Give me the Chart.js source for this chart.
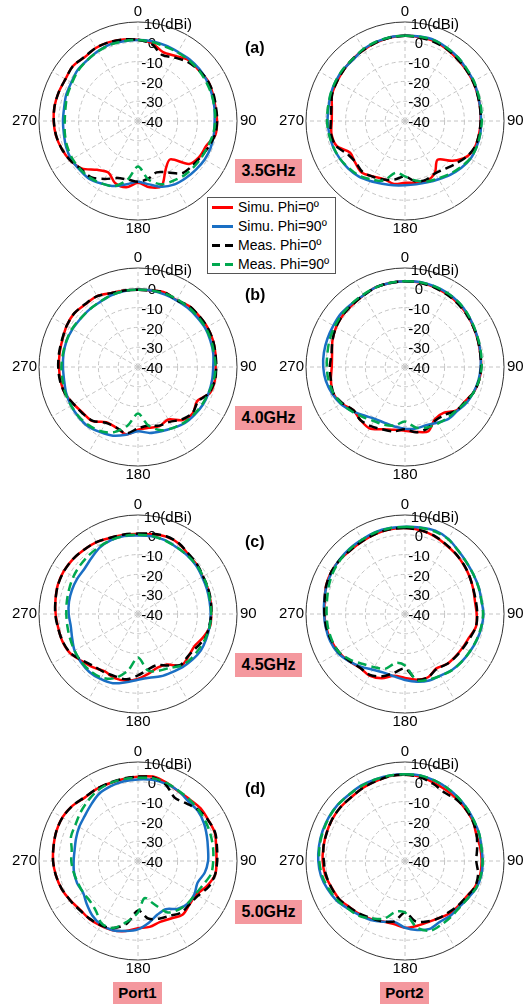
<!DOCTYPE html>
<html>
<head>
<meta charset="utf-8">
<script src="https://cdn.jsdelivr.net/npm/chart.js@4.4.0/dist/chart.umd.min.js"></script>
<style>
  html, body { margin: 0; padding: 0; background: #fff; }
  body { width: 524px; height: 1006px; position: relative; overflow: hidden;
         font-family: "Liberation Sans", Arial, sans-serif; color: #000; }
  .plot { position: absolute; width: 270px; height: 250px; }
  .tag { position: absolute; font-weight: bold; font-size: 16px; line-height: 18px; }
  .pink { position: absolute; background: #f4989e; font-weight: bold; text-align: center; z-index: 2; }
  .freq { width: 67px; height: 24px; line-height: 24px; font-size: 16px; }
  .port { width: 49px; height: 22px; line-height: 22px; font-size: 15px; }
  #legend { position: absolute; left: 207px; top: 197px; width: 127px; height: 75px;
            border: 1px solid #555; background: #fff; z-index: 3; padding-top: 0; }
  #legend .row { height: 19px; line-height: 19px; font-size: 14px; white-space: nowrap; padding-left: 4px; }
  #legend .swatch { display: inline-block; width: 21px; height: 3px; vertical-align: middle;
                    margin-right: 5px; position: relative; top: -1px; }
</style>
</head>
<body>

<canvas id="p1a" class="plot" width="270" height="250" style="left:3px;top:-4px"></canvas>
<canvas id="p2a" class="plot" width="270" height="250" style="left:270px;top:-4px"></canvas>
<canvas id="p1b" class="plot" width="270" height="250" style="left:3px;top:242px"></canvas>
<canvas id="p2b" class="plot" width="270" height="250" style="left:270px;top:242px"></canvas>
<canvas id="p1c" class="plot" width="270" height="250" style="left:3px;top:489px"></canvas>
<canvas id="p2c" class="plot" width="270" height="250" style="left:270px;top:489px"></canvas>
<canvas id="p1d" class="plot" width="270" height="250" style="left:3px;top:736px"></canvas>
<canvas id="p2d" class="plot" width="270" height="250" style="left:270px;top:736px"></canvas>

<div class="tag" style="left:245px;top:39px">(a)</div>
<div class="tag" style="left:245px;top:286px">(b)</div>
<div class="tag" style="left:245px;top:533px">(c)</div>
<div class="tag" style="left:245px;top:780px">(d)</div>

<div class="pink freq" style="left:235px;top:159px">3.5GHz</div>
<div class="pink freq" style="left:235px;top:406px">4.0GHz</div>
<div class="pink freq" style="left:235px;top:653px">4.5GHz</div>
<div class="pink freq" style="left:235px;top:900px">5.0GHz</div>

<div class="pink port" style="left:113px;top:982px">Port1</div>
<div class="pink port" style="left:380px;top:982px">Port2</div>

<div id="legend"></div>

<script>
// angles (deg, clockwise from top) at which every pattern is sampled
const angles = [0, 10, 20, 30, 40, 50, 60, 70, 80, 90, 100, 110, 120, 130, 140, 150, 160, 170,
                180, 190, 200, 210, 220, 230, 240, 250, 260, 270, 280, 290, 300, 310, 320, 330, 340, 350]
const angleLabels = ['0', '90', '180', '270']
const tickValues = [10, 0, -10, -20, -30, -40]
const tickLabels = ['10(dBi)', '0', '-10', '-20', '-30', '-40']
const seriesNames = ['Simu. Phi=0º', 'Simu. Phi=90º', 'Meas. Phi=0º', 'Meas. Phi=90º']

// (a) 3.5 GHz
const p1a_simu0  = [1, 0, -3, -2, 0, 0, 0.7, 0.2, -0.3, -0.1, -0.3, -3.3, -4.1, -6.3, -14.7, -12, -5.1, -6, -8.8, -6, -6.5, -10, -7.8, -2.8, -0.4, 1, 2.1, 2.6, 2.8, 2.6, 2.3, 3, 2, 2.6, 2.4, 1.8]
const p1a_simu90 = [0.9, 0.9, 0.6, 0.3, 0.6, 0.6, 0.3, -0.3, -0.8, -1.3, -1.1, -0.9, -1.1, -1.8, -2.4, -3, -4.6, -7.5, -9.3, -7.6, -5, -3.5, -1.8, -1.6, -1.1, -1.4, -2, -2.1, -2.1, -1.4, -1.1, -0.1, 0, 0.7, 1.2, 0.9]
const p1a_meas0  = [1, -0.5, -4.5, -3, -1, 0, 0.7, 0.5, 0, 0, -0.5, -2, -3.5, -4.5, -5.5, -10, -12.4, -10.4, -9.3, -10, -9.3, -6.2, -3, -2.4, -0.4, 1, 2, 2.5, 2.8, 2.6, 2.3, 3, 2.2, 2.6, 2.4, 1.8]
const p1a_meas90 = [0.9, 0.5, 0, 0, 0, 0, -0.3, -0.5, -0.8, -1, -1.5, -2.5, -3, -3.5, -4, -5, -6, -10, -17, -10, -5, -3.5, -2.5, -2, -1.8, -2, -2.5, -3, -2.8, -2, -1.5, -0.5, 0, 0.5, 1, 1]
const p2a_simu0  = [3, 3, 3, 2, 1, 0.3, -0.3, -1, -1.5, -1.8, -2, -2.3, -4, -8.7, -14.4, -9.8, -7.8, -8.3, -8.8, -7.7, -8.8, -7.7, -6, -7.2, -8, -3.3, -2.3, -3, -2.5, -0.8, -0.3, 0.3, 1, 1.5, 2.2, 2.8]
const p2a_simu90 = [3, 3.3, 3.5, 2.6, 1.8, 0.6, 0.1, -0.9, -1.4, -1.6, -1.4, -1.6, -1.8, -3, -4.5, -6, -7, -7.5, -7.5, -7, -6.3, -5, -3.5, -2.6, -2, -1.4, -1.2, -0.9, -0.8, -0.1, 0.4, 0.6, 0.6, 1.9, 2.5, 3]
const p2a_meas0  = [3, 2.8, 2.5, 2, 1, 0.3, -0.3, -1, -1.5, -1.8, -2, -2.3, -4, -6.5, -8.5, -9.5, -8.5, -9, -12, -10, -8.5, -7.5, -6.5, -7.5, -6.5, -3, -2, -2.5, -2.2, -0.8, -0.3, 0.3, 1, 1.5, 2.2, 2.8]
const p2a_meas90 = [3, 3.2, 3.3, 2.5, 1.8, 0.8, 0.2, -0.6, -1, -1.2, -1.5, -1.5, -2, -3.5, -5, -6.5, -7.5, -9.5, -12, -13.5, -8, -6, -4, -3, -2, -1.5, -1, -0.6, -0.5, 0, 0.4, 0.8, 1, 2, 2.6, 3]

// (b) 4.0 GHz
const p1b_simu0  = [-1, -0.8, 0, -1, 0.2, 0.2, 0.4, 0.2, -0.3, -0.8, -0.6, -1.4, -5.5, -3.8, -5, -9.4, -8.2, -8.8, -8.3, -5.5, -7.5, -7.8, -4.3, -3.8, -2.5, -0.8, -0.3, -0.1, 0.2, 0.6, 1.6, 2.1, 1.3, 1.3, -0.3, -0.8]
const p1b_simu90 = [-1, -0.8, -1, -1.1, -1, -1, -0.8, -1.1, -1.4, -2, -2, -2, -2.1, -2.6, -3.1, -4.5, -5.5, -6.2, -7.5, -5.3, -3.1, -2, -0.8, -0.8, -1, -1.4, -2.1, -2.1, -1.8, -1.6, -1.8, -2.1, -2, -2, -1.3, -1]
const p1b_meas0  = [-1, -0.8, 0, -1, 0.2, 0.2, 0.4, 0.2, -0.3, -0.5, -0.6, -1.8, -5, -4, -5.5, -8, -8.5, -10, -9, -6, -7.5, -7.5, -4.5, -3.5, -2.5, -0.8, 0, 0.3, 0.5, 0.8, 1.6, 2.1, 1.5, 1.3, -0.3, -0.8]
const p1b_meas90 = [-1, -0.8, -0.5, -0.5, -0.5, -0.5, -0.5, -0.7, -1, -0.8, -1.2, -2, -2.5, -3, -3.5, -4.5, -6, -10, -16.5, -10, -5, -2.5, -1.5, -1, -1, -1, -1.3, -1.3, -1.5, -1.5, -1.5, -2, -2, -1.8, -1.3, -1]
const p2b_simu0  = [3.3, 3.3, 3, 2.5, 1.8, 1, 0, -0.8, -1.4, -1.5, -2, -3, -5.1, -6, -9.7, -9.7, -5.5, -6.7, -7.8, -7.8, -6.5, -4.2, -5, -6, -3, -1.4, -2, -3, -2.6, -1, 0.2, 0.9, 1.1, 1.8, 2.9, 3.1]
const p2b_simu90 = [3.3, 3.6, 3.4, 3.1, 2.4, 1.4, 0.2, -0.6, -1.3, -1.8, -2.3, -3.1, -4, -5.5, -5.8, -7.5, -8.7, -8.5, -8.8, -9.5, -10, -9.7, -8, -5.3, -2.6, -0.8, 0.6, 1.3, 1.6, 1.7, 1.8, 2.1, 1.8, 1.8, 2.9, 3.1]
const p2b_meas0  = [3.3, 3.2, 2.8, 2.3, 1.6, 0.8, 0, -0.8, -1.4, -1.6, -2, -3, -5, -6, -8.5, -9, -7, -6.5, -8.5, -7, -6.5, -5.5, -5, -6, -3.5, -1.5, -2, -2, -2.3, -1, 0.2, 0.9, 1.2, 1.8, 2.8, 3.1]
const p2b_meas90 = [3.3, 3.5, 3.3, 3, 2.4, 1.4, 0.3, -0.5, -1, -1.3, -2, -3, -4.5, -6, -6.5, -7, -7.5, -9, -12.5, -10, -9, -8.5, -7, -5, -3, -1.5, -0.8, -0.5, -0.2, 0.5, 1, 1.5, 1.8, 2.2, 2.8, 3.2]

// (c) 4.5 GHz
const p1c_simu0  = [0.4, 0.9, 1.6, 1.1, -0.6, -1.3, -2.3, -2.5, -2.8, -3, -3.1, -5.1, -7.2, -6.7, -6, -10.5, -11.2, -9.4, -7.2, -5.8, -5.5, -6.5, -4.8, -3, -0.4, 0.6, 0.9, 1.6, 2.3, 3.1, 3.3, 3, 2.4, 1.9, 0.9, 0.7]
const p1c_simu90 = [-0.3, -0.1, -0.3, -1.1, -1.4, -1.8, -2.6, -3, -3.3, -3.3, -3.3, -3.3, -3.3, -4.1, -5, -6, -6.5, -7.3, -6.8, -5, -2.8, -2.1, -1.8, -2.3, -3, -4.6, -5.5, -5, -4.6, -4.5, -4.5, -4.6, -3.3, -1.3, -0.3, 0]
const p1c_meas0  = [0.6, 1.2, 1.8, 1.3, -0.3, -1, -2, -2.3, -2.6, -3, -3.5, -4, -6, -7, -6.5, -10, -12.5, -11.5, -9, -6.5, -6.5, -6, -5.5, -3.5, -0.6, 0.5, 1, 1.8, 2.3, 3, 3.2, 3, 2.4, 1.9, 1, 0.8]
const p1c_meas90 = [0, 0, -0.5, -1, -1.3, -1.5, -2, -2.5, -3, -3, -3.3, -3.8, -4.5, -5, -6, -8.5, -9.5, -11, -18, -11, -5.5, -3, -2.5, -2.5, -3, -3.5, -3.8, -3.8, -3.5, -3, -2.3, -1.8, -1.3, -0.8, -0.3, 0]
const p2c_simu0  = [3.4, 3.1, 2.1, 0.7, -0.3, -1.3, -2.3, -3.3, -4.1, -3.8, -3.6, -5.5, -6.3, -6.7, -7, -8.3, -6, -6.3, -7.7, -8.3, -5.5, -4.1, -4.6, -3, -1.4, -0.4, 0.4, 0.7, 1.2, 2.4, 2.9, 2.8, 2.4, 2.6, 3.1, 3.4]
const p2c_simu90 = [4.1, 4.4, 4.8, 3.8, 1.8, 0.6, -0.1, -0.4, -0.8, -0.4, -0.8, -1.4, -2.1, -2.6, -3.1, -4.1, -4.3, -5.3, -6.7, -8, -8.5, -7.5, -5.3, -3, -0.8, 0.2, 0.6, 0.9, 1.4, 2.1, 2.6, 3, 3.3, 3.4, 4, 4.1]
const p2c_meas0  = [3.4, 3, 2.3, 0.9, -0.2, -1.2, -2.3, -3.3, -3.6, -3.5, -3.6, -5, -6, -6.5, -7, -8, -6, -6.5, -12.5, -10, -6.5, -4.5, -4.6, -3.2, -1.5, -0.5, 0.3, 0.7, 1.2, 2.3, 2.9, 2.8, 2.4, 2.6, 3.1, 3.4]
const p2c_meas90 = [4, 4.2, 4.3, 3.6, 1.8, 0.6, -0.1, -0.5, -0.8, -0.6, -1, -1.6, -2.2, -2.6, -3, -4, -4.8, -6, -14, -15, -10.5, -9, -7, -4, -1.5, -0.8, -0.5, -0.4, 0, 1, 2, 2.6, 3, 3.3, 3.8, 4]

// (d) 5.0 GHz
const p1d_simu0  = [2.6, 3.3, 2.1, 0.7, 0.6, 1.3, 1.1, 1.3, 0.1, -0.4, -0.4, -3, -6, -6, -4.8, -6.5, -7.3, -6.2, -6, -4.1, -2.8, -2.3, -1.8, -1.8, -0.4, 1.1, 2.1, 2.9, 3.3, 3.9, 4.1, 3.3, 1.8, 1.9, 1.8, 2.1]
const p1d_simu90 = [1.2, 1.6, 1.4, 0.9, -0.6, -0.6, -1.6, -3, -4.1, -4.6, -5.8, -8, -7, -6.8, -8.5, -11.9, -11.2, -8.3, -5.5, -4.1, -2.8, -2.8, -4.1, -6.2, -8, -7.3, -7.2, -7.5, -7.5, -6.7, -5.7, -4.8, -3, -0.8, 0.2, 0.9]
const p1d_meas0  = [2.6, 3, 1, -3, -2, 0, 1, 1.5, 0.5, 0, -0.5, -2, -5, -6, -6, -8, -9, -10.5, -15, -8, -4, -2.5, -2, -1.5, -0.4, 1, 2.1, 2.9, 3.3, 3.9, 4, 3.3, 2, 2, 2, 2.3]
const p1d_meas90 = [2, 2.5, 2, 1, 0.5, 0, -0.5, -1, -1.5, -2, -2.5, -5, -6.5, -7, -8, -10, -17, -21, -14, -9, -4, -3.5, -7, -8.4, -8, -7.7, -7, -6.3, -6, -4, -3.5, -2, -0.5, 1, 1.8, 2]
const p2d_simu0  = [3.6, 3.3, 2.1, 1.4, 0.8, 0.2, -0.3, -1.6, -1.4, -1.3, -1.4, -2.3, -4.1, -4.8, -5.3, -6.5, -7, -6.7, -6.3, -7.7, -7.5, -6, -4.8, -3.6, -1.6, -0.6, 0.9, 1.6, 1.8, 2.1, 2.4, 2.4, 2.1, 2.6, 2.9, 3.6]
const p2d_simu90 = [3.8, 3.9, 3.3, 2.6, 1.8, 1, 0.3, -0.1, -0.8, -0.8, -0.8, -1.4, -3, -4.1, -4.1, -4.6, -3.5, -4.6, -6.3, -8.8, -7.3, -5.6, -4.3, -2.5, -0.1, 1.6, 3.1, 3.8, 4.1, 4.3, 4.4, 4.3, 3.9, 4.1, 3.9, 3.9]
const p2d_meas0  = [3.6, 3, 1.5, -0.1, 0.5, 0.3, -0.3, -1.5, -3, -4, -2.5, -2.3, -4, -5, -6, -6.5, -7.5, -9, -14, -9, -7.5, -6.5, -5, -3.5, -1.5, -0.5, 0.5, 1, 1.8, 2, 2.4, 2.4, 2.1, 2.6, 2.9, 3.5]
const p2d_meas90 = [3.8, 3.8, 3.3, 2.6, 1.8, 1, 0.3, -0.1, -0.8, -0.8, -1, -1.5, -3, -3.8, -3.5, -3, -2.5, -6, -14, -14, -9, -6.5, -3.8, -2.5, -0.5, 1, 2.5, 3.3, 3.8, 4, 4.2, 4.2, 3.8, 3.8, 3.8, 3.8]

const RED = '#ff0000'
const BLUE = '#1a6fc4'
const BLACK = '#000000'
const GREEN = '#00a84f'
const GRID = '#c4c4c4'
const FONT = '"Liberation Sans", Arial, sans-serif'

// angle labels and dB tick labels, placed through the radial scale
const polarText = {
  id: 'polarText',
  beforeDatasetsDraw(chart) {
    const r = chart.scales.r
    const ctx = chart.ctx
    const R = r.drawingArea
    ctx.save()
    ctx.fillStyle = '#000'
    ctx.font = '15px ' + FONT
    ctx.textBaseline = 'middle'

    angleLabels.forEach(txt => {
      const idx = angles.indexOf(Number(txt))
      if (txt === '0') {
        const p = r.getPointPosition(idx, R + 10)
        ctx.textAlign = 'center'
        ctx.fillText(txt, p.x, p.y)
      } else if (txt === '90') {
        const p = r.getPointPosition(idx, R + 3)
        ctx.textAlign = 'left'
        ctx.fillText(txt, p.x, p.y)
      } else if (txt === '180') {
        const p = r.getPointPosition(idx, R + 9)
        ctx.textAlign = 'center'
        ctx.fillText(txt, p.x, p.y)
      } else {
        const p = r.getPointPosition(idx, R + 2)
        ctx.textAlign = 'right'
        ctx.fillText(txt, p.x, p.y)
      }
    })

    const tx = r.xCenter + 14
    tickValues.forEach((v, i) => {
      const y = r.yCenter - r.getDistanceFromCenterForValue(v) + 2
      const label = tickLabels[i]
      if (label.indexOf('(') > 0) {
        const head = label.slice(0, label.indexOf('('))
        ctx.textAlign = 'left'
        ctx.fillText(label, tx - ctx.measureText(head).width / 2, y + 1)
      } else {
        ctx.textAlign = 'center'
        ctx.fillText(label, tx, y)
      }
    })
    ctx.restore()
  }
}

function drawPlot(id, simu0, simu90, meas0, meas90) {
  new Chart(document.getElementById(id), {
    type: 'radar',
    data: {
      labels: angles,
      datasets: [
        { label: seriesNames[3], data: meas90, borderColor: GREEN, borderDash: [9, 5], order: 0 },
        { label: seriesNames[2], data: meas0, borderColor: BLACK, borderDash: [9, 5], order: 1 },
        { label: seriesNames[1], data: simu90, borderColor: BLUE, order: 2 },
        { label: seriesNames[0], data: simu0, borderColor: RED, order: 3 }
      ]
    },
    options: {
      responsive: false,
      animation: false,
      devicePixelRatio: 1,
      layout: { padding: { left: 36, right: 36, top: 26, bottom: 26 } },
      plugins: {
        legend: { display: false },
        tooltip: { enabled: false }
      },
      elements: {
        point: { radius: 0, hitRadius: 0, hoverRadius: 0 },
        line: { borderWidth: 2.5, tension: 0.3, fill: false, backgroundColor: 'transparent' }
      },
      scales: {
        r: {
          min: -40,
          max: 10,
          startAngle: 0,
          ticks: { display: false, stepSize: 10 },
          pointLabels: { display: false },
          grid: {
            circular: true,
            lineWidth: 1,
            color: (c) => c.tick.value === 10 ? '#333333' : (c.tick.value === -40 ? 'transparent' : GRID)
          },
          border: {
            dash: (c) => c.tick && c.tick.value === 10 ? [] : [4, 3]
          },
          angleLines: {
            color: (c) => c.index % 3 === 0 ? GRID : 'transparent',
            lineWidth: 1,
            borderDash: [4, 3]
          }
        }
      }
    },
    plugins: [polarText]
  })
}

drawPlot('p1a', p1a_simu0, p1a_simu90, p1a_meas0, p1a_meas90)
drawPlot('p2a', p2a_simu0, p2a_simu90, p2a_meas0, p2a_meas90)
drawPlot('p1b', p1b_simu0, p1b_simu90, p1b_meas0, p1b_meas90)
drawPlot('p2b', p2b_simu0, p2b_simu90, p2b_meas0, p2b_meas90)
drawPlot('p1c', p1c_simu0, p1c_simu90, p1c_meas0, p1c_meas90)
drawPlot('p2c', p2c_simu0, p2c_simu90, p2c_meas0, p2c_meas90)
drawPlot('p1d', p1d_simu0, p1d_simu90, p1d_meas0, p1d_meas90)
drawPlot('p2d', p2d_simu0, p2d_simu90, p2d_meas0, p2d_meas90)

// legend box
const legendStyles = [
  'background:' + RED,
  'background:' + BLUE,
  'background:linear-gradient(to right,' + BLACK + ' 0 8px,transparent 8px 13px,' + BLACK + ' 13px 21px)',
  'background:linear-gradient(to right,' + GREEN + ' 0 8px,transparent 8px 13px,' + GREEN + ' 13px 21px)'
]
const legend = document.getElementById('legend')
seriesNames.forEach((name, i) => {
  const row = document.createElement('div')
  row.className = 'row'
  row.innerHTML = '<span class="swatch" style="' + legendStyles[i] + '"></span>' + name
  legend.appendChild(row)
})
</script>
</body>
</html>
